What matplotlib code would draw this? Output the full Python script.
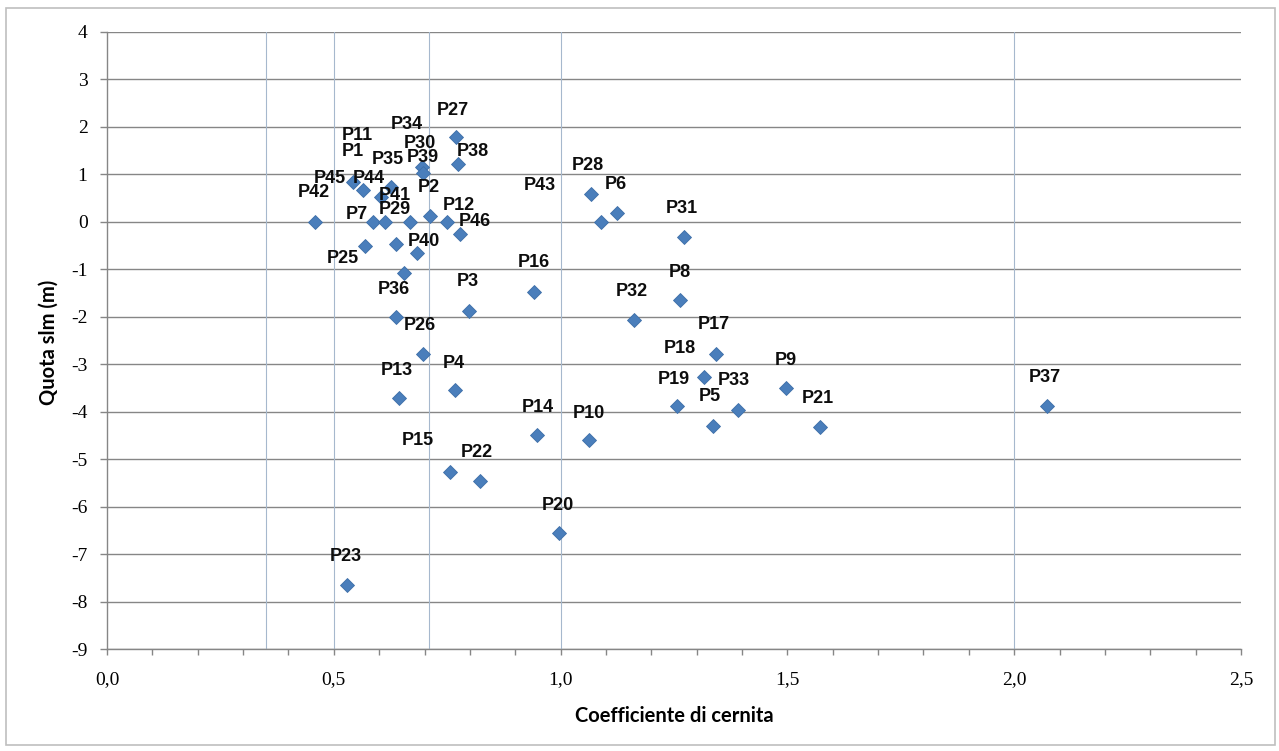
import matplotlib.pyplot as plt
from matplotlib.ticker import MultipleLocator, FuncFormatter
from matplotlib.patches import Rectangle

# sample data: sorting coefficient vs elevation
names = ["P1", "P2", "P3", "P4", "P5", "P6", "P7", "P8", "P9", "P10",
         "P11", "P12", "P13", "P14", "P15", "P16", "P17", "P18", "P19", "P20",
         "P21", "P22", "P23", "P25", "P26", "P27", "P28", "P29", "P30", "P31",
         "P32", "P33", "P34", "P35", "P36", "P37", "P38", "P39", "P40", "P41",
         "P42", "P43", "P44", "P45", "P46"]
coef = [0.637, 0.712, 0.797, 0.767, 1.335, 1.125, 0.586, 1.264, 1.498, 1.063,
        0.655, 0.749, 0.644, 0.949, 0.756, 0.942, 1.343, 1.317, 1.257, 0.997,
        1.572, 0.822, 0.528, 0.569, 0.697, 0.769, 1.068, 0.613, 0.694, 1.271,
        1.162, 1.390, 0.668, 0.626, 0.637, 2.072, 0.773, 0.696, 0.683, 0.605,
        0.459, 1.088, 0.565, 0.542, 0.778]
quota = [-0.46, 0.13, -1.87, -3.54, -4.30, 0.18, 0.0, -1.64, -3.51, -4.60,
         -1.07, 0.0, -3.72, -4.49, -5.28, -1.47, -2.79, -3.26, -3.89, -6.55,
         -4.33, -5.45, -7.65, -0.51, -2.78, 1.78, 0.58, 0.0, 1.15, -0.31,
         -2.07, -3.96, 0.0, 0.74, -2.00, -3.87, 1.22, 1.03, -0.65, 0.53,
         0.0, 0.0, 0.67, 0.83, -0.25]

# sorting class limits (vertical reference lines)
class_limits = [0.35, 0.50, 0.71, 1.00, 2.00]

# label placement, offset in points from each marker
lab_dx = [-31, -0.5, -0.4, -0.7, -1.9, -0.9, -11.5, -0.4, -0.7, -0.5,
          -34, 8.9, -1.7, 0, -22.8, -0.7, -1.9, -17.5, -2.4, -1.2,
          -1.9, -2.4, -0.7, -16.1, -2.4, -1.9, -2.4, 6.7, -1.2, -1.2,
          -1.7, -2.4, -2.5, -2.4, -1.2, -1.2, 10.8, 0, 4.8, 9.6,
          -1.2, -43.7, 4.3, -16.3, 10.8]
lab_dy = [66.5, 20.2, 20.9, 19.2, 21.1, 20.9, 5.3, 19.9, 20.4, 19.5,
          99, 11.7, 19.9, 19.5, 22.8, 20.9, 21.1, 20.4, 19.7, 19.9,
          20.9, 20.2, 20.4, -8.9, 20.2, 19.4, 20.4, 8.6, 17.3, 19.9,
          20.4, 20.9, 70, 19.7, 19.7, 20.2, 8.9, 10.8, 8.4, 1.2,
          20.9, 26.4, 8.4, 3.2, 8.9]

fig = plt.figure(figsize=(12.79, 7.51), dpi=100)
ax = fig.add_axes([107/1279, 1-649/751, (1241-107)/1279, (649-32)/751])

grid_col = "#868686"
ax.set_xlim(0, 2.5)
ax.set_ylim(-9, 4)
ax.xaxis.set_major_locator(MultipleLocator(0.5))
ax.xaxis.set_minor_locator(MultipleLocator(0.1))
ax.yaxis.set_major_locator(MultipleLocator(1))
ax.xaxis.set_major_formatter(FuncFormatter(lambda v, p: ("%.1f" % v).replace(".", ",")))
ax.yaxis.set_major_formatter(FuncFormatter(lambda v, p: "%d" % v))

ax.grid(axis="y", color=grid_col, lw=1.0, zorder=0)
ax.set_axisbelow(True)
for v in class_limits:
    ax.axvline(v, color="#a6b8cd", lw=0.8, zorder=1)

for s in ["top", "right"]:
    ax.spines[s].set_visible(False)
for s in ["left", "bottom"]:
    ax.spines[s].set_color(grid_col)
    ax.spines[s].set_linewidth(1.0)

ax.tick_params(axis="y", which="major", length=5, width=1, color=grid_col, pad=9)
ax.tick_params(axis="x", which="both", length=4, width=1, color=grid_col, pad=12)
for lab in ax.get_xticklabels() + ax.get_yticklabels():
    lab.set_fontfamily("Liberation Serif")
    lab.set_fontsize(14)

ax.plot(coef, quota, linestyle="none", marker="D", markersize=7.5,
        markerfacecolor="#4a7ebb", markeredgecolor="#3d6ea8", markeredgewidth=0.6,
        zorder=3)

for i in range(len(names)):
    ax.annotate(names[i], (coef[i], quota[i]), xytext=(lab_dx[i], lab_dy[i]),
                textcoords="offset points", ha="center", va="center",
                fontsize=13, fontweight="bold",
                family=["Liberation Sans Narrow", "Liberation Sans"],
                color="#0d0d0d", zorder=4, annotation_clip=False)

fig.text(674/1279, 1-716/751, "Coefficiente di cernita", ha="center", va="center",
         fontsize=14.5, fontweight="bold", family="Lato")
fig.text(49/1279, 1-342/751, "Quota slm (m)", ha="center", va="center",
         rotation=90, fontsize=14.5, fontweight="bold", family="Lato")

fig.patches.append(Rectangle((6/1279, 6/751), 1269/1279, 737/751,
                             transform=fig.transFigure, fill=False,
                             edgecolor="#bfbfbf", lw=1.2))

fig.savefig("out.png", dpi=100)
